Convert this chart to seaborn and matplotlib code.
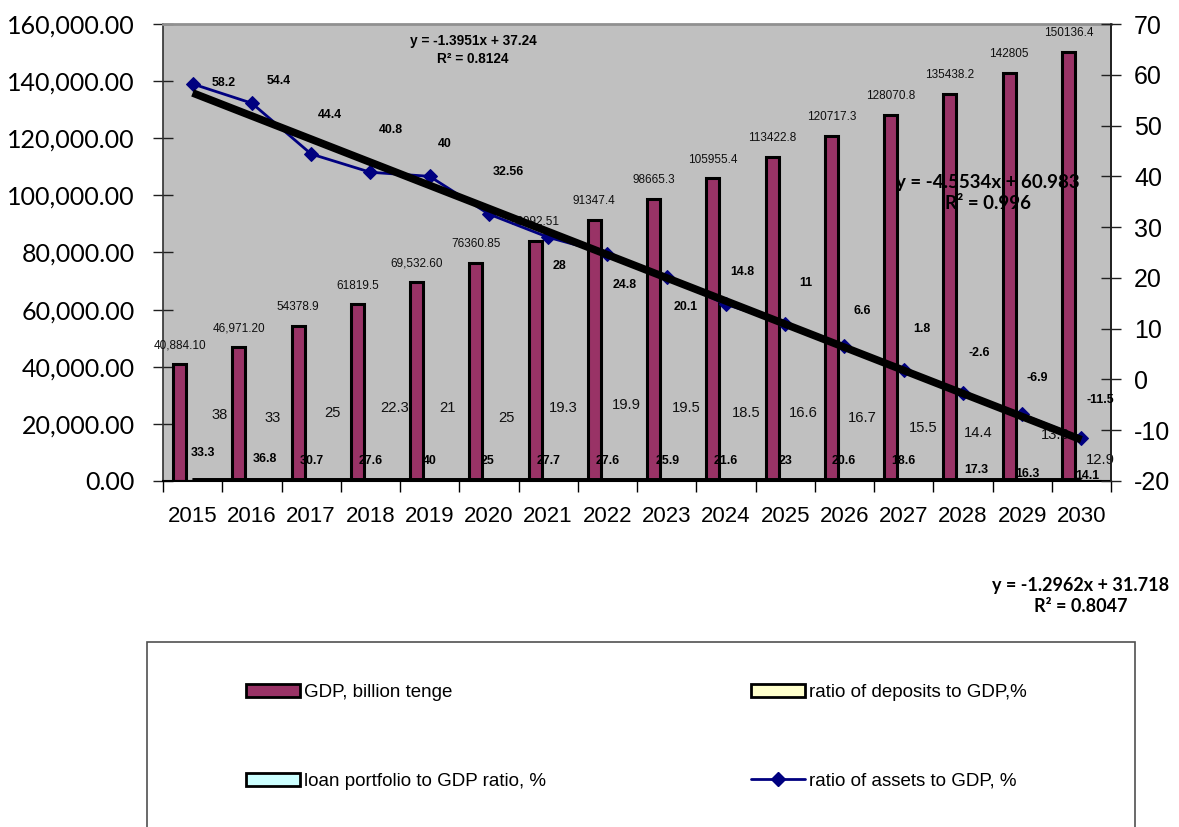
import numpy as np
import pandas as pd
import matplotlib
matplotlib.use("Agg")
import matplotlib.pyplot as plt
from matplotlib import font_manager
from matplotlib.patches import Patch, Rectangle
from matplotlib.lines import Line2D
import seaborn as sns

# ---------------- data ----------------
years = [str(y) for y in range(2015, 2031)]
gdp = [40884.10, 46971.20, 54378.9, 61819.5, 69532.60, 76360.85, 83992.51, 91347.4,
       98665.3, 105955.4, 113422.8, 120717.3, 128070.8, 135438.2, 142805, 150136.4]
gdp_labels = ["40,884.10", "46,971.20", "54378.9", "61819.5", "69,532.60", "76360.85",
              "83992.51", "91347.4", "98665.3", "105955.4", "113422.8", "120717.3",
              "128070.8", "135438.2", "142805", "150136.4"]
deposits = [38, 33, 25, 22.3, 21, 25, 19.3, 19.9, 19.5, 18.5, 16.6, 16.7, 15.5, 14.4, 13.6, 12.9]
loans = [33.3, 36.8, 30.7, 27.6, 40, 25, 27.7, 27.6, 25.9, 21.6, 23, 20.6, 18.6, 17.3, 16.3, 14.1]
assets = [58.2, 54.4, 44.4, 40.8, 40, 32.56, 28, 24.8, 20.1, 14.8, 11, 6.6, 1.8, -2.6, -6.9, -11.5]

series_names = ["GDP, billion tenge", "ratio of deposits to GDP,%",
                "loan portfolio to GDP ratio, %", "ratio of assets to GDP, %"]
trend_texts = {
    "loans": "y = -1.3951x + 37.24\nR² = 0.8124",
    "assets": "y = -4.5534x + 60.983\nR² = 0.996",
    "deposits": "y = -1.2962x + 31.718\nR² = 0.8047",
}

# ---------------- style ----------------
GDP_C = "#993366"
DEP_C = "#FFFFCC"
LOAN_C = "#CCFFFF"
LINE_C = "#000080"

installed = {f.name for f in font_manager.fontManager.ttflist}
NARROW = "Liberation Sans Narrow" if "Liberation Sans Narrow" in installed else "Liberation Sans"
narrow_scale = 1.0 if NARROW == "Liberation Sans Narrow" else 0.85
CAL = "Lato"

sns.set_theme(style="white")
plt.rcParams["font.family"] = ["Liberation Sans", "DejaVu Sans"]
plt.rcParams["text.color"] = "black"
plt.rcParams["xtick.color"] = "black"
plt.rcParams["ytick.color"] = "black"
plt.rcParams["axes.labelcolor"] = "black"

W, H, DPI = 1179, 827, 100
fig = plt.figure(figsize=(W / DPI, H / DPI), dpi=DPI)
ax = fig.add_axes([163 / W, 1 - 481 / H, (1111 - 163) / W, (481 - 24) / H])
ax.set_facecolor("#C0C0C0")

df = pd.DataFrame({
    "year": years * 3,
    "value": gdp + deposits + loans,
    "series": [series_names[0]] * 16 + [series_names[1]] * 16 + [series_names[2]] * 16,
})
sns.barplot(data=df, x="year", y="value", hue="series", ax=ax,
            palette=[GDP_C, DEP_C, LOAN_C], saturation=1, width=0.66,
            edgecolor="black", linewidth=2.2, legend=False, zorder=2)

# linear trend lines for deposits & loans (on primary axis, near zero)
xpos = np.arange(16)
for vals in (deposits, loans):
    k, b = np.polyfit(xpos + 1, vals, 1)
    ax.plot(xpos, k * (xpos + 1) + b, color="black", lw=4, zorder=3, solid_capstyle="butt")

ax.set_xlim(-0.5, 15.5)
ax.set_ylim(0, 160000)
ax.set_yticks(np.arange(0, 160001, 20000))
ax.set_yticklabels([f"{v:,.2f}" for v in np.arange(0, 160001, 20000)],
                   fontfamily=CAL, fontsize=18, color="black")
ax.set_xlabel("")
ax.set_ylabel("")
ax.tick_params(axis="y", direction="inout", length=15, width=1, color="#202020", pad=13, left=True)
ax.tick_params(axis="x", length=0, pad=18, labelsize=16, labelcolor="black")
ax.set_xticks(np.arange(-0.5, 15.6, 1), minor=True)
ax.tick_params(axis="x", which="minor", direction="out", length=8, width=1, color="black", bottom=True)
for lab in ax.get_xticklabels():
    lab.set_fontfamily(["Liberation Sans", "DejaVu Sans"])

ax.spines["left"].set_color("#303030")
ax.spines["left"].set_linewidth(1.2)
ax.spines["top"].set_color("#909090")
ax.spines["top"].set_linewidth(2)
ax.spines["bottom"].set_color("black")
ax.spines["bottom"].set_linewidth(1.5)

# GDP bar labels
for i, (v, t) in enumerate(zip(gdp, gdp_labels)):
    ax.annotate(t, xy=(i - 0.22, v), xytext=(0, 13.5), textcoords="offset points",
                ha="center", va="center", fontsize=9.3 * narrow_scale + (0 if narrow_scale == 1 else 0.6),
                fontfamily=NARROW, color="#101010", zorder=6)

# deposits labels
dep_dx = [27, 21, 21, 24, 18, 18, 15, 19, 20, 20, 18, 18, 20, 15, 33, 19]
dep_dy = [66, 63, 68, 73, 73, 63, 73, 76, 73, 68, 68, 63, 53, 48, 46, 21]
for i, v in enumerate(deposits):
    ax.annotate(f"{v:g}", xy=(i, 0), xytext=(dep_dx[i] * 0.72, dep_dy[i] * 0.72),
                textcoords="offset points", ha="center", va="center",
                fontsize=12.5 * narrow_scale, fontfamily=NARROW, color="#101010", zorder=6)

# loans labels
loan_dx = [10, 13, 1, 0, 0, -1, 0, 0, 1, 0, 0, -1, 0, 13, 5, 6]
loan_dy = [28, 22, 20, 20, 20, 20, 20, 20, 20, 20, 20, 20, 20, 11, 7, 5]
for i, v in enumerate(loans):
    ax.annotate(f"{v:g}", xy=(i, 0), xytext=(loan_dx[i] * 0.72, loan_dy[i] * 0.72),
                textcoords="offset points", ha="center", va="center",
                fontsize=10.5 * narrow_scale, fontweight="bold", fontfamily=NARROW,
                color="black", zorder=6)

# ---------------- secondary axis ----------------
ax2 = ax.twinx()
sns.lineplot(x=xpos, y=assets, ax=ax2, color=LINE_C, lw=2, marker="D", markersize=7,
             markeredgecolor=LINE_C, zorder=4)
k, b = np.polyfit(xpos + 1, assets, 1)
ax2.plot(xpos, k * (xpos + 1) + b, color="black", lw=5.5, zorder=5, solid_capstyle="butt")
ax2.set_ylim(-20, 70)
ax2.set_yticks(np.arange(-20, 71, 10))
ax2.set_yticklabels([f"{v:d}" for v in np.arange(-20, 71, 10)], fontsize=18, color="black")
ax2.tick_params(axis="y", direction="inout", length=15, width=1, color="#202020", pad=9, right=True)
ax2.set_xlim(-0.5, 15.5)
for sp in ("top", "bottom", "left"):
    ax2.spines[sp].set_visible(False)
ax2.spines["right"].set_color("#202020")
ax2.spines["right"].set_linewidth(1.2)

as_dx = [31, 27, 19, 21, 15, 19, 11, 17, 19, 16, 21, 18, 18, 16, 15, 19]
as_dy = [1, 22, 39, 42, 32, 42, -29, -31, -30, 32, 41, 35, 41, 40, 36, 38]
for i, v in enumerate(assets):
    ax2.annotate(f"{v:g}", xy=(i, v), xytext=(as_dx[i] * 0.72, as_dy[i] * 0.72),
                 textcoords="offset points", ha="center", va="center",
                 fontsize=10.5 * narrow_scale, fontweight="bold", fontfamily=NARROW,
                 color="black", zorder=7)

# trend equations
fig.text(473 / W, 1 - 50 / H, trend_texts["loans"], ha="center", va="center",
         fontsize=11.5 * narrow_scale, fontweight="bold", fontfamily=NARROW,
         linespacing=1.35, color="black")
fig.text(988 / W, 1 - 193 / H, trend_texts["assets"], ha="center", va="center",
         fontsize=13.5, fontweight="bold", fontfamily=CAL, linespacing=1.3, color="black")
fig.text(1081 / W, 1 - 596 / H, trend_texts["deposits"], ha="center", va="center",
         fontsize=13, fontweight="bold", fontfamily=CAL, linespacing=1.25, color="black")

# ---------------- legend ----------------
fig.add_artist(Rectangle((147 / W, -0.1), (1135 - 147) / W, 1 - 642 / H + 0.1,
                         transform=fig.transFigure, fill=False, edgecolor="#505050", lw=1.2))
handles = [
    Patch(facecolor=GDP_C, edgecolor="black", lw=2),
    Patch(facecolor=LOAN_C, edgecolor="black", lw=2),
    Patch(facecolor=DEP_C, edgecolor="black", lw=2),
    Line2D([], [], color=LINE_C, lw=2, marker="D", markersize=7),
]
labels = [series_names[0], series_names[2], series_names[1], series_names[3]]
leg_fs = 16 if NARROW == "Liberation Sans Narrow" else 13.5
fs_px = leg_fs / 0.72
leg = fig.legend(handles, labels, ncol=2, loc="upper left",
                 bbox_to_anchor=(246 / W, 1 - 684 / H), frameon=False,
                 borderpad=0, borderaxespad=0,
                 prop={"family": NARROW, "size": leg_fs},
                 handlelength=54 / fs_px, handleheight=13 / fs_px, handletextpad=4 / fs_px,
                 columnspacing=205 / fs_px, labelspacing=(94 - 1.2 * fs_px) / fs_px)
for t in leg.get_texts():
    t.set_color("black")

fig.savefig("out.png", dpi=DPI)
